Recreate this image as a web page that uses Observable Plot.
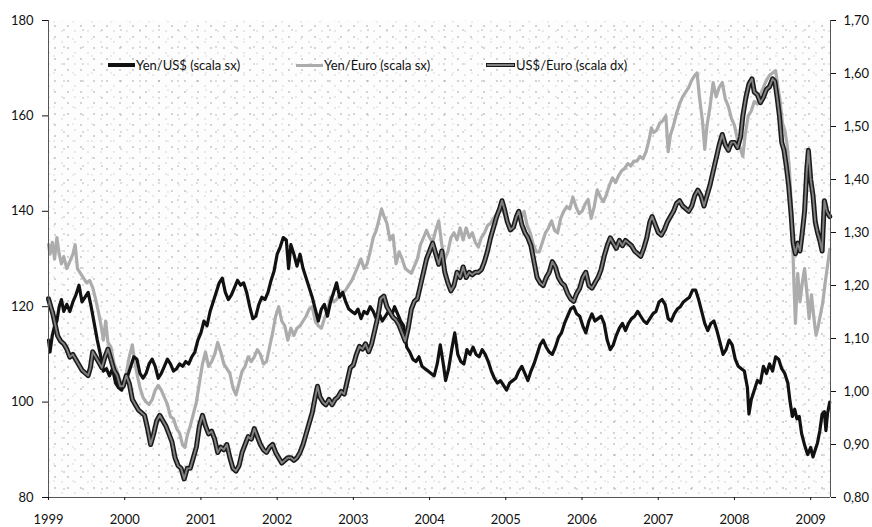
<!DOCTYPE html>
<html>
<head>
<meta charset="utf-8">
<script src="https://cdn.jsdelivr.net/npm/d3@7"></script>
<script src="https://cdn.jsdelivr.net/npm/@observablehq/plot@0.6"></script>
<style>
  html, body { margin: 0; padding: 0; background: #fff; }
  #wrap { position: relative; width: 872px; height: 527px; font-family: Lato, "Open Sans", sans-serif; }
  #legend { position: absolute; top: 57px; left: 0; width: 872px; height: 18px; font-size: 13px; color: #111; }
  .item { position: absolute; display: flex; align-items: center; white-space: nowrap; }
  .sw { display: inline-block; width: 27px; height: 0; margin-right: 1px; }
</style>
</head>
<body>
<div id="wrap">
  <div id="chart"></div>
  <div id="legend"></div>
</div>
<script>
// ---------- data ----------
const seriesNames = ["Yen/US$ (scala sx)", "Yen/Euro (scala sx)", "US$/Euro (scala dx)"];

const yenUsdT = [1999.00,1999.02,1999.05,1999.08,1999.11,1999.14,1999.17,1999.20,1999.24,1999.28,1999.32,1999.36,1999.40,1999.44,1999.48,1999.52,1999.56,1999.60,1999.64,1999.68,1999.72,1999.76,1999.80,1999.84,1999.88,1999.92,1999.96,
2000.00,2000.04,2000.08,2000.12,2000.16,2000.20,2000.24,2000.28,2000.32,2000.36,2000.40,2000.44,2000.48,2000.52,2000.56,2000.60,2000.64,2000.68,2000.72,2000.76,2000.80,2000.84,2000.88,2000.92,2000.96,
2001.00,2001.04,2001.08,2001.12,2001.16,2001.20,2001.24,2001.28,2001.32,2001.36,2001.40,2001.44,2001.48,2001.52,2001.56,2001.60,2001.64,2001.68,2001.72,2001.76,2001.80,2001.84,2001.88,2001.92,2001.96,
2002.00,2002.04,2002.08,2002.12,2002.15,2002.18,2002.22,2002.26,2002.30,2002.34,2002.38,2002.42,2002.46,2002.50,2002.54,2002.58,2002.62,2002.66,2002.70,2002.74,2002.78,2002.82,2002.86,2002.90,2002.94,2002.98,
2003.02,2003.06,2003.10,2003.14,2003.18,2003.22,2003.26,2003.30,2003.34,2003.38,2003.42,2003.46,2003.50,2003.54,2003.58,2003.62,2003.66,2003.70,2003.74,2003.78,2003.82,2003.86,2003.90,2003.94,2003.98,
2004.02,2004.06,2004.10,2004.14,2004.18,2004.21,2004.25,2004.29,2004.33,2004.37,2004.41,2004.45,2004.49,2004.53,2004.57,2004.61,2004.65,2004.69,2004.73,2004.77,2004.81,2004.85,2004.89,2004.93,2004.97,
2005.01,2005.05,2005.09,2005.13,2005.17,2005.21,2005.25,2005.29,2005.33,2005.37,2005.41,2005.45,2005.49,2005.53,2005.57,2005.61,2005.65,2005.69,2005.73,2005.77,2005.81,2005.85,2005.89,2005.93,2005.97,
2006.01,2006.05,2006.09,2006.13,2006.17,2006.21,2006.25,2006.29,2006.33,2006.37,2006.41,2006.45,2006.49,2006.53,2006.57,2006.61,2006.65,2006.69,2006.73,2006.77,2006.81,2006.85,2006.89,2006.93,2006.97,
2007.01,2007.05,2007.09,2007.13,2007.17,2007.21,2007.25,2007.29,2007.33,2007.37,2007.41,2007.45,2007.49,2007.53,2007.57,2007.61,2007.65,2007.69,2007.73,2007.77,2007.81,2007.85,2007.89,2007.93,2007.97,
2008.01,2008.05,2008.09,2008.13,2008.17,2008.19,2008.22,2008.26,2008.30,2008.34,2008.38,2008.42,2008.46,2008.50,2008.54,2008.58,2008.62,2008.66,2008.70,2008.73,2008.76,2008.79,2008.82,2008.85,2008.88,2008.92,2008.96,
2009.00,2009.03,2009.06,2009.09,2009.12,2009.15,2009.18,2009.20,2009.22,2009.25];
const yenUsdV = [113,110.5,114,116,117,120,121.5,119,120.5,119,121,122.5,124.5,121,122,123,120,116.5,113,110,106.5,107,105.5,107,104,103,102.5,
104.5,105.5,107.5,109.5,109,106,105,106,108,109,107.5,105,106,107.5,109,108,106.5,107,108,107.5,108.5,108,109.5,110.5,113,
114.5,117,116,119,121,123,125,126,123,121.5,122.5,124,125.5,124.5,125,123,120,117.5,118,120.5,122,121.5,123,125.5,127.5,
131,132.5,134.5,134,128,133,131,128.5,131,128,126,124,122,119.5,117,119.5,120.5,118,121,123,125,122,123,121,119.5,119,
118.5,119.5,117.5,119,118.5,120,119,117.5,118.5,117,118,119,118,120,118.5,117,116,111.5,110.5,109,108.5,109.5,107.5,107,106.5,
106,105.5,108,112,108,104.5,107,111,114.5,110,108.5,108,111,110,111.5,110,109.5,111,110,108.5,106.5,105,104,104.5,103.5,
102.5,104,104.5,105,106.5,107.5,106,104.5,106.5,108,110,112,113,111.5,110.5,110,111.5,113.5,114.5,116.5,118,119.5,120,118.5,118,
116,114.5,117,118.5,117,117.5,118,116.5,113,111,112,114,115.5,116.5,115,116.5,117.5,118,119,118,117,116.5,117.5,118.5,119,
121,121.5,120.5,117.5,117,118.5,119.5,120,121,121.5,122,123.5,123.5,121.5,119,116.5,115,116.5,117,115,112.5,110,111,113,112,
109,107.5,107,106.5,103,97.5,100.5,102.5,104.5,104,107.5,106,108,106.5,109.5,109,107,106,104,100,97,98.5,96.5,97,93.5,91,89,
90.5,88.5,90,91.5,94,97.5,98,94,97.5,100];

const yenEurT = [1999.00,1999.02,1999.05,1999.08,1999.11,1999.14,1999.17,1999.20,1999.24,1999.28,1999.32,1999.35,1999.38,1999.42,1999.46,1999.50,1999.54,1999.58,1999.62,1999.66,1999.69,1999.72,1999.75,1999.78,1999.82,1999.86,1999.90,1999.94,1999.98,
2000.02,2000.06,2000.10,2000.13,2000.16,2000.20,2000.24,2000.28,2000.32,2000.36,2000.40,2000.44,2000.48,2000.52,2000.56,2000.60,2000.64,2000.68,2000.72,2000.76,2000.79,2000.82,2000.86,2000.90,2000.94,2000.98,
2001.02,2001.06,2001.10,2001.14,2001.18,2001.22,2001.26,2001.30,2001.34,2001.38,2001.42,2001.46,2001.50,2001.54,2001.58,2001.62,2001.66,2001.70,2001.74,2001.78,2001.82,2001.86,2001.90,2001.94,2001.98,
2002.02,2002.06,2002.10,2002.14,2002.18,2002.22,2002.26,2002.30,2002.34,2002.38,2002.42,2002.46,2002.50,2002.54,2002.58,2002.62,2002.66,2002.70,2002.74,2002.78,2002.82,2002.86,2002.90,2002.94,2002.98,
2003.02,2003.06,2003.10,2003.14,2003.18,2003.22,2003.26,2003.30,2003.34,2003.37,2003.40,2003.44,2003.48,2003.52,2003.56,2003.60,2003.64,2003.68,2003.72,2003.76,2003.80,2003.84,2003.88,2003.92,2003.96,
2004.00,2004.04,2004.08,2004.12,2004.16,2004.20,2004.24,2004.28,2004.32,2004.36,2004.40,2004.44,2004.48,2004.52,2004.56,2004.60,2004.64,2004.68,2004.72,2004.76,2004.80,2004.84,2004.88,2004.92,2004.96,
2005.00,2005.04,2005.08,2005.12,2005.16,2005.20,2005.24,2005.28,2005.32,2005.36,2005.40,2005.44,2005.48,2005.52,2005.56,2005.60,2005.64,2005.68,2005.72,2005.76,2005.80,2005.84,2005.88,2005.92,2005.96,
2006.00,2006.04,2006.08,2006.12,2006.16,2006.20,2006.24,2006.28,2006.32,2006.36,2006.40,2006.44,2006.48,2006.52,2006.56,2006.60,2006.64,2006.68,2006.72,2006.76,2006.80,2006.84,2006.88,2006.91,2006.94,2006.98,
2007.02,2007.06,2007.10,2007.13,2007.16,2007.20,2007.24,2007.28,2007.32,2007.36,2007.40,2007.44,2007.48,2007.51,2007.54,2007.58,2007.61,2007.64,2007.68,2007.72,2007.76,2007.80,2007.84,2007.88,2007.92,2007.96,
2008.00,2008.04,2008.08,2008.11,2008.14,2008.18,2008.22,2008.26,2008.30,2008.34,2008.38,2008.42,2008.46,2008.50,2008.54,2008.57,2008.60,2008.63,2008.66,2008.69,2008.72,2008.75,2008.78,2008.80,2008.83,2008.86,2008.89,2008.92,2008.95,2008.98,
2009.01,2009.04,2009.07,2009.10,2009.13,2009.16,2009.19,2009.22,2009.25];
const yenEurV = [133,131,133.5,130,134.5,131,129,130.5,128,129.5,131,133,128,127,126,125,125.5,124,121.5,118.5,116,113,117,112.5,111.5,108,106.5,104.5,103,
106,109.5,112,108.5,106,103,101,100,99.5,100.5,102.5,103.5,102.5,101,99.5,97,96.5,94.5,93.5,91,90.5,93,95,97.5,100,104,
108,110.5,107.5,108.5,110,112.5,110.5,108,107,106,103,101.5,104,106.5,107.5,109.5,108.5,109.5,111,110,108,108.5,111.5,114.5,118,
120,117,116,113,115.5,114,115.5,116,117,118,119.5,120,117,116,115.5,117.5,119,122,121,121.5,122.5,123,123.5,124.5,125.5,
127,128.5,130,128,129,131.5,134.5,136,138.5,140.5,139,137.5,134,135,129,131.5,130,128,127.5,127,128.5,130,133,134.5,136,
134.5,133.5,136,138,133,130,131.5,134.5,135.5,134,136.5,134,136.5,134.5,135.5,133.5,132.5,134.5,135.5,137,137.5,138.5,139.5,141,140,
139,137,136,137.5,139,138.5,140,137,135.5,133,131.5,131.5,133.5,135.5,136.5,138,136,135.5,138.5,140,141,140.5,143,141,139.5,
140,141.5,142.5,138.5,141,144.5,143,142,143.5,145.5,147,146,147.5,148.5,149,150,149.5,150.5,150.5,151.5,151,152.5,155,157.5,156.5,157,
158.5,159,160,152.5,156,158,160.5,162.5,164,165,166,167.5,168.5,169,164,159,153,158,162,167,164,166,167,163.5,162,159.5,
158,155,153,151.5,156,160,161,163,162.5,164.5,166,167.5,168.5,169,169.5,166,163,158.5,157,154,149,140,125,116.5,127,121,125,128,123,117.5,
122.5,118,114,116,118.5,121,125,128.5,132];

const usdEurT = [1999.00,1999.03,1999.06,1999.09,1999.12,1999.16,1999.20,1999.24,1999.28,1999.32,1999.36,1999.40,1999.44,1999.48,1999.52,1999.55,1999.58,1999.62,1999.66,1999.70,1999.74,1999.78,1999.82,1999.86,1999.90,1999.94,1999.98,
2000.02,2000.06,2000.10,2000.14,2000.18,2000.22,2000.26,2000.30,2000.34,2000.38,2000.42,2000.46,2000.50,2000.54,2000.58,2000.62,2000.66,2000.70,2000.74,2000.78,2000.82,2000.86,2000.90,2000.94,2000.98,
2001.02,2001.06,2001.10,2001.14,2001.18,2001.22,2001.26,2001.30,2001.34,2001.38,2001.42,2001.46,2001.50,2001.54,2001.58,2001.62,2001.66,2001.70,2001.74,2001.78,2001.82,2001.86,2001.90,2001.94,2001.98,
2002.02,2002.06,2002.10,2002.14,2002.18,2002.22,2002.26,2002.30,2002.34,2002.38,2002.42,2002.46,2002.50,2002.53,2002.56,2002.60,2002.64,2002.68,2002.72,2002.76,2002.80,2002.84,2002.88,2002.92,2002.96,
2003.00,2003.04,2003.08,2003.12,2003.16,2003.20,2003.24,2003.28,2003.32,2003.36,2003.40,2003.44,2003.48,2003.52,2003.56,2003.60,2003.64,2003.68,2003.72,2003.76,2003.80,2003.84,2003.88,2003.92,2003.96,
2004.00,2004.04,2004.08,2004.12,2004.16,2004.20,2004.24,2004.28,2004.32,2004.36,2004.40,2004.44,2004.48,2004.52,2004.56,2004.60,2004.64,2004.68,2004.72,2004.76,2004.80,2004.84,2004.88,2004.92,2004.95,2004.98,
2005.02,2005.06,2005.10,2005.14,2005.17,2005.21,2005.25,2005.29,2005.33,2005.37,2005.41,2005.45,2005.49,2005.53,2005.57,2005.61,2005.65,2005.69,2005.73,2005.77,2005.81,2005.85,2005.89,2005.93,2005.97,
2006.01,2006.05,2006.09,2006.13,2006.17,2006.21,2006.25,2006.29,2006.33,2006.37,2006.41,2006.45,2006.49,2006.53,2006.57,2006.61,2006.65,2006.69,2006.73,2006.77,2006.81,2006.85,2006.89,2006.92,2006.96,
2007.00,2007.04,2007.08,2007.12,2007.16,2007.20,2007.24,2007.28,2007.32,2007.36,2007.40,2007.44,2007.48,2007.52,2007.56,2007.60,2007.64,2007.68,2007.72,2007.76,2007.80,2007.84,2007.88,2007.92,2007.96,
2008.00,2008.04,2008.08,2008.11,2008.15,2008.19,2008.23,2008.26,2008.30,2008.34,2008.38,2008.42,2008.46,2008.50,2008.53,2008.56,2008.59,2008.62,2008.65,2008.68,2008.71,2008.74,2008.77,2008.80,2008.83,2008.86,2008.89,2008.92,2008.95,2008.97,
2009.00,2009.03,2009.06,2009.09,2009.12,2009.15,2009.18,2009.21,2009.25];
const usdEurV = [1.175,1.16,1.145,1.125,1.105,1.095,1.09,1.08,1.065,1.07,1.06,1.05,1.04,1.035,1.03,1.045,1.075,1.065,1.055,1.045,1.065,1.08,1.06,1.04,1.03,1.01,1.01,
1.03,1.015,0.985,0.975,0.965,0.96,0.955,0.93,0.90,0.92,0.945,0.955,0.945,0.935,0.92,0.905,0.875,0.86,0.855,0.835,0.855,0.855,0.875,0.895,0.935,
0.955,0.935,0.92,0.925,0.91,0.885,0.895,0.89,0.90,0.875,0.855,0.85,0.86,0.885,0.90,0.915,0.91,0.93,0.915,0.90,0.89,0.885,0.895,0.90,0.885,
0.875,0.865,0.87,0.875,0.875,0.87,0.875,0.885,0.90,0.92,0.94,0.96,0.99,1.01,0.99,0.98,0.975,0.985,0.975,0.985,0.99,1.00,0.995,1.02,1.045,
1.05,1.07,1.085,1.08,1.09,1.075,1.09,1.115,1.14,1.175,1.18,1.16,1.15,1.14,1.135,1.125,1.11,1.095,1.12,1.155,1.17,1.175,1.20,1.225,1.25,
1.265,1.28,1.26,1.24,1.265,1.225,1.205,1.19,1.20,1.225,1.215,1.235,1.215,1.225,1.22,1.225,1.225,1.23,1.245,1.265,1.29,1.31,1.33,1.345,1.36,1.345,
1.32,1.305,1.31,1.33,1.34,1.315,1.30,1.29,1.275,1.245,1.215,1.205,1.20,1.215,1.225,1.245,1.235,1.215,1.205,1.20,1.185,1.175,1.17,1.185,1.195,
1.215,1.225,1.20,1.195,1.205,1.215,1.23,1.255,1.275,1.29,1.28,1.27,1.285,1.275,1.285,1.28,1.275,1.265,1.26,1.255,1.27,1.29,1.32,1.33,1.315,
1.30,1.295,1.305,1.32,1.33,1.34,1.355,1.36,1.35,1.345,1.34,1.35,1.37,1.38,1.37,1.35,1.37,1.39,1.415,1.44,1.465,1.485,1.465,1.455,1.47,
1.47,1.46,1.48,1.52,1.555,1.58,1.59,1.565,1.56,1.545,1.555,1.57,1.575,1.59,1.585,1.555,1.52,1.47,1.455,1.425,1.39,1.34,1.28,1.26,1.28,1.265,1.30,1.34,1.42,1.455,
1.40,1.37,1.32,1.30,1.285,1.265,1.36,1.34,1.33];

const yearTicks = [1999,2000,2001,2002,2003,2004,2005,2006,2007,2008,2009];
const leftTicks = [80,100,120,140,160,180];
const rightTicks = [0.80,0.90,1.00,1.10,1.20,1.30,1.40,1.50,1.60,1.70];

// ---------- helpers ----------
const L0 = 80, L1 = 180, R0 = 0.80, R1 = 1.70;
const toLeft = r => L0 + (r - R0) * (L1 - L0) / (R1 - R0);
const toRight = v => R0 + (v - L0) * (R1 - R0) / (L1 - L0);
const itFmt = d3.formatLocale({decimal: ",", thousands: ".", grouping: [3], currency: ["", " €"]}).format(".2f");

const yenUsd = yenUsdT.map((t, i) => ({t, v: yenUsdV[i]}));
const yenEur = yenEurT.map((t, i) => ({t, v: yenEurV[i]}));
const usdEur = usdEurT.map((t, i) => ({t, v: toLeft(usdEurV[i])}));
const xEnd = 2009.26;

const plot = Plot.plot({
  width: 872,
  height: 527,
  marginLeft: 48,
  marginRight: 42,
  marginTop: 20,
  marginBottom: 30,
  style: {fontFamily: "Lato, 'Open Sans', sans-serif", fontSize: "13px", color: "#111", background: "transparent"},
  x: {domain: [1999, xEnd], axis: null},
  y: {domain: [L0, L1], axis: null},
  marks: [
    Plot.frame({fill: "#fdfdfd", stroke: "none"}),
    Plot.frame({fill: "url(#stippleA)", stroke: "none"}),
    Plot.frame({fill: "url(#stippleB)", stroke: "none"}),
    Plot.line(yenEur, {x: "t", y: "v", stroke: "#acacac", strokeWidth: 3.2}),
    Plot.line(yenUsd, {x: "t", y: "v", stroke: "#111", strokeWidth: 3.2}),
    Plot.line(usdEur, {x: "t", y: "v", stroke: "#1a1a1a", strokeWidth: 5}),
    Plot.line(usdEur, {x: "t", y: "v", stroke: "#808080", strokeWidth: 1.9}),
    Plot.ruleX([1999], {stroke: "#555", strokeWidth: 1}),
    Plot.ruleX([xEnd], {stroke: "#555", strokeWidth: 1}),
    Plot.ruleY([L0], {stroke: "#555", strokeWidth: 1}),
    Plot.axisY(leftTicks, {anchor: "left", tickSize: 6, tickPadding: 9, label: null, tickFormat: d => String(d), fontSize: 13}),
    Plot.axisY(rightTicks.map(toLeft), {anchor: "right", tickSize: 5, tickPadding: 8, label: null, tickFormat: v => itFmt(toRight(v)), fontSize: 13}),
    Plot.axisX(yearTicks, {anchor: "bottom", tickSize: 3, tickPadding: 14, label: null, tickFormat: d => String(d), fontSize: 13})
  ]
});

// stipple patterns for the scanned background texture
const ns = "http://www.w3.org/2000/svg";
const defs = document.createElementNS(ns, "defs");
defs.innerHTML = `
<pattern id="stippleA" width="13" height="11" patternUnits="userSpaceOnUse">
  <rect x="2" y="3" width="1" height="1" fill="#555"/>
  <rect x="9" y="8" width="1" height="1" fill="#aaa"/>
</pattern>
<pattern id="stippleB" width="19" height="17" patternUnits="userSpaceOnUse">
  <rect x="6" y="12" width="1" height="1" fill="#777"/>
  <rect x="15" y="4" width="1" height="1" fill="#b8b8b8"/>
</pattern>`;
plot.insertBefore(defs, plot.firstChild);
document.getElementById("chart").appendChild(plot);

// legend (HTML, above the plot area)
const legendItems = [
  {name: seriesNames[0], left: 108, css: "border-top:4px solid #111;"},
  {name: seriesNames[1], left: 296, css: "border-top:3px solid #acacac;"},
  {name: seriesNames[2], left: 486, css: "height:2px;background:#808080;border:1px solid #1a1a1a;"}
];
const legend = document.getElementById("legend");
for (const it of legendItems) {
  const d = document.createElement("div");
  d.className = "item";
  d.style.left = it.left + "px";
  d.innerHTML = `<span class="sw" style="${it.css}"></span><span>${it.name}</span>`;
  legend.appendChild(d);
}
</script>
</body>
</html>
